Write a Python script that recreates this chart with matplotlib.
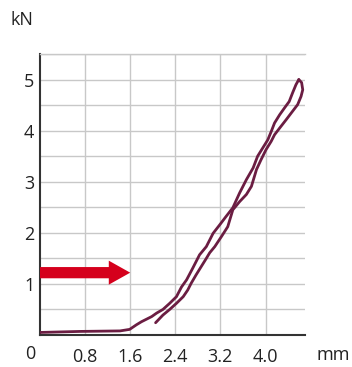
import numpy as np
import matplotlib
matplotlib.use('Agg')
import matplotlib.pyplot as plt

plt.rcParams['font.family'] = ['Open Sans', 'DejaVu Sans']

# Belastungskurve (mm, kN)
weg_last = [0.00, 0.71, 1.42, 1.59, 1.71, 1.80, 1.89, 1.98, 2.07, 2.18, 2.30, 2.42, 2.51,
            2.60, 2.71, 2.83, 2.95, 3.07, 3.19, 3.30, 3.42, 3.54, 3.66, 3.78, 3.86, 3.95,
            4.04, 4.10, 4.16, 4.25, 4.34, 4.42, 4.48, 4.54, 4.59]
kraft_last = [0.05, 0.07, 0.08, 0.11, 0.20, 0.26, 0.31, 0.36, 0.43, 0.50, 0.62, 0.75, 0.94,
              1.08, 1.31, 1.57, 1.73, 1.99, 2.16, 2.32, 2.49, 2.78, 3.04, 3.27, 3.50, 3.66,
              3.82, 3.98, 4.15, 4.31, 4.45, 4.57, 4.74, 4.90, 5.00]

# Entlastungskurve
weg_ent = [4.59, 4.64, 4.66, 4.63, 4.57, 4.48, 4.37, 4.25, 4.16, 4.10, 4.01, 3.92, 3.84,
           3.75, 3.66, 3.54, 3.42, 3.33, 3.22, 3.10, 3.01, 2.95, 2.86, 2.77, 2.68, 2.62,
           2.54, 2.42, 2.30, 2.18, 2.05]
kraft_ent = [5.00, 4.94, 4.80, 4.67, 4.51, 4.38, 4.22, 4.05, 3.92, 3.79, 3.63, 3.43, 3.24,
             2.91, 2.75, 2.61, 2.45, 2.12, 1.93, 1.73, 1.61, 1.50, 1.34, 1.18, 1.01, 0.88,
             0.75, 0.62, 0.50, 0.39, 0.24]

x_ticks = [0.8, 1.6, 2.4, 3.2, 4.0]
x_labels = ['0.8', '1.6', '2.4', '3.2', '4.0']
y_ticks = [1, 2, 3, 4, 5]
pfeil_y = 1.22
pfeil_ende = 1.6

fig = plt.figure(figsize=(3.52, 3.67), dpi=100)
ax = fig.add_axes([40 / 352, 32 / 367, 265 / 352, 281 / 367])

farbe = '#6b1d42'
ax.plot(weg_last, kraft_last, color=farbe, lw=2.0, solid_joinstyle='round',
        solid_capstyle='round', zorder=3)
ax.plot(weg_ent, kraft_ent, color=farbe, lw=2.0, solid_joinstyle='round',
        solid_capstyle='round', zorder=3)

ax.arrow(0, pfeil_y, pfeil_ende, 0, width=0.22, head_width=0.47, head_length=0.38,
         length_includes_head=True, color='#d5001c', lw=0, zorder=4)

ax.set_xlim(0, 4.7)
ax.set_ylim(0, 5.5)
ax.set_xticks(x_ticks)
ax.set_xticklabels(x_labels)
ax.set_yticks(y_ticks)
ax.set_xticks(np.arange(0.8, 4.7, 0.8), minor=True)
ax.set_yticks(np.arange(0.5, 5.6, 0.5), minor=True)
ax.grid(which='both', color='#c8c8c8', lw=1.0)
ax.set_axisbelow(True)
ax.tick_params(which='both', length=0)
ax.tick_params(axis='x', pad=9, labelsize=13, labelcolor='#222222')
ax.tick_params(axis='y', pad=4, labelsize=13, labelcolor='#222222')

ax.spines['right'].set_visible(False)
ax.spines['top'].set_color('#c8c8c8')
ax.spines['top'].set_linewidth(1.0)
ax.spines['left'].set_color('#333333')
ax.spines['bottom'].set_color('#333333')
ax.spines['left'].set_linewidth(1.5)
ax.spines['bottom'].set_linewidth(1.5)

ax.text(-0.18, -0.37, '0', ha='center', va='center', fontsize=13, color='#222222', clip_on=False)
fig.text(21.5 / 352, 1 - 20 / 367, 'kN', ha='center', va='center', fontsize=13, color='#222222')
fig.text(333.7 / 352, 1 - 355 / 367, 'mm', ha='center', va='center', fontsize=13, color='#222222')

fig.savefig('out.png', dpi=100)
